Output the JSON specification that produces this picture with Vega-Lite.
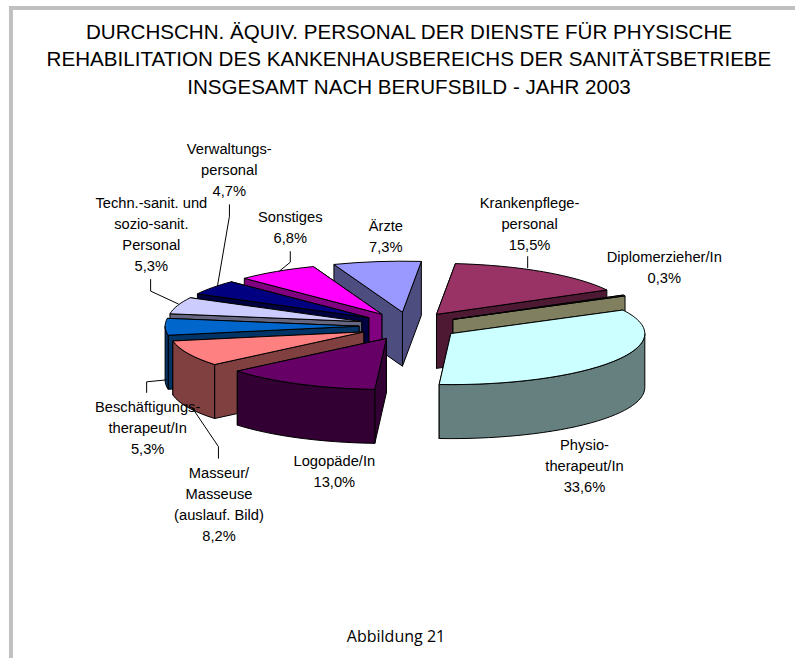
{
"$schema":"https://vega.github.io/schema/vega-lite/v6.json",
"width":797,"height":660,
"autosize":{"type":"fit","contains":"padding"},
"padding":0,
"background":"white",
"view":{"stroke":null},
"datasets":{"slices":[
{"seq":1,"slice":"Krankenpflegepersonal","label":["Krankenpflege-","personal","15,5%"],"share":15.5},
{"seq":2,"slice":"Diplomerzieher/In","label":["Diplomerzieher/In","0,3%"],"share":0.3},
{"seq":3,"slice":"Physiotherapeut/In","label":["Physio-","therapeut/In","33,6%"],"share":33.6},
{"seq":4,"slice":"Logopäde/In","label":["Logopäde/In","13,0%"],"share":13.0},
{"seq":5,"slice":"Masseur/Masseuse","label":["Masseur/","Masseuse","(auslauf. Bild)","8,2%"],"share":8.2},
{"seq":6,"slice":"Beschäftigungstherapeut/In","label":["Beschäftigungs-","therapeut/In","5,3%"],"share":5.3},
{"seq":7,"slice":"Techn.-sanit. Personal","label":["Techn.-sanit. und","sozio-sanit.","Personal","5,3%"],"share":5.3},
{"seq":8,"slice":"Verwaltungspersonal","label":["Verwaltungs-","personal","4,7%"],"share":4.7},
{"seq":9,"slice":"Sonstiges","label":["Sonstiges","6,8%"],"share":6.8},
{"seq":10,"slice":"Ärzte","label":["Ärzte","7,3%"],"share":7.3}
]},
"data":{"name":"slices"},
"transform":[
{"window":[{"op":"sum","field":"share","as":"cum"}],"sort":[{"field":"seq"}],"ignorePeers":true},
{"calculate":"((datum.cum-datum.share)*3.6+5.6)*PI/180","as":"t0"},
{"calculate":"(datum.cum*3.6+5.6)*PI/180","as":"t1"},
{"calculate":"(datum.t0+datum.t1)/2","as":"m"},
{"calculate":"410+50*sin(datum.m)","as":"cx"},
{"calculate":"327-14*cos(datum.m)","as":"cy"}
],
"layer":[
{
"transform":[
{"calculate":"[0,1,2,3]","as":"part"},
{"flatten":["part"]},
{"calculate":"max(datum.t0,PI/2)","as":"w0"},
{"calculate":"min(datum.t1,3*PI/2)","as":"w1"},
{"filter":"datum.part!=2||datum.w0<datum.w1"},
{"calculate":"round(19400*sin(datum.t0))/100","as":"x0"},
{"calculate":"round(-5100*cos(datum.t0))/100","as":"y0"},
{"calculate":"round(19400*sin(datum.t1))/100","as":"x1"},
{"calculate":"round(-5100*cos(datum.t1))/100","as":"y1"},
{"calculate":"round(19400*sin(datum.w0))/100","as":"u0"},
{"calculate":"round(-5100*cos(datum.w0))/100","as":"v0"},
{"calculate":"round(19400*sin(datum.w1))/100","as":"u1"},
{"calculate":"round(-5100*cos(datum.w1))/100","as":"v1"},
{"calculate":"datum.part==3?'M0,0L'+datum.x0+','+datum.y0+'A194,51 0 0 1 '+datum.x1+','+datum.y1+'Z':datum.part==2?'M'+datum.u0+','+datum.v0+'A194,51 0 0 1 '+datum.u1+','+datum.v1+'L'+datum.u1+','+(datum.v1+54)+'A194,51 0 0 0 '+datum.u0+','+(datum.v0+54)+'Z':datum.part==1?'M0,0L'+datum.x1+','+datum.y1+'L'+datum.x1+','+(datum.y1+54)+'L0,54Z':'M0,0L'+datum.x0+','+datum.y0+'L'+datum.x0+','+(datum.y0+54)+'L0,54Z'","as":"path"},
{"calculate":"indexof(['Ärzte','Krankenpflegepersonal','Sonstiges','Verwaltungspersonal','Diplomerzieher/In','Techn.-sanit. Personal','Physiotherapeut/In','Beschäftigungstherapeut/In','Masseur/Masseuse','Logopäde/In'],datum.slice)*10+((datum.part<2&&datum.m>PI)?1-datum.part:datum.part)","as":"paint"},
{"calculate":"datum.slice+(datum.part==3?'|top':'|side')","as":"face"}
],
"mark":{"type":"point","filled":true,"size":4,"opacity":1,"stroke":"#000","strokeWidth":1,"strokeJoin":"round"},
"encoding":{
"x":{"field":"cx","type":"quantitative","scale":{"domain":[0,797],"nice":false,"zero":false},"axis":null},
"y":{"field":"cy","type":"quantitative","scale":{"domain":[660,0],"nice":false,"zero":false},"axis":null},
"shape":{"field":"path","type":"nominal","scale":null,"legend":null},
"order":{"field":"paint","type":"quantitative"},
"fill":{"field":"face","type":"nominal","legend":null,"scale":{
"domain":["Krankenpflegepersonal|top","Krankenpflegepersonal|side","Diplomerzieher/In|top","Diplomerzieher/In|side","Physiotherapeut/In|top","Physiotherapeut/In|side","Logopäde/In|top","Logopäde/In|side","Masseur/Masseuse|top","Masseur/Masseuse|side","Beschäftigungstherapeut/In|top","Beschäftigungstherapeut/In|side","Techn.-sanit. Personal|top","Techn.-sanit. Personal|side","Verwaltungspersonal|top","Verwaltungspersonal|side","Sonstiges|top","Sonstiges|side","Ärzte|top","Ärzte|side"],
"range":["#993366","#4d1933","#404030","#808060","#ccffff","#668080","#660066","#330033","#ff8080","#804040","#0066cc","#003366","#ccccff","#666680","#000080","#000040","#ff00ff","#800080","#9999ff","#4d4d80"]}}
}
},
{
"transform":[
{"calculate":"{'Krankenpflegepersonal':-6,'Diplomerzieher/In':53,'Physiotherapeut/In':-17,'Logopäde/In':29,'Masseur/Masseuse':18,'Beschäftigungstherapeut/In':-32,'Techn.-sanit. Personal':-40,'Verwaltungspersonal':5,'Sonstiges':6,'Ärzte':7}[datum.slice]","as":"nx"},
{"calculate":"{'Krankenpflegepersonal':-73,'Diplomerzieher/In':-49,'Physiotherapeut/In':53,'Logopäde/In':40,'Masseur/Masseuse':91,'Beschäftigungstherapeut/In':60,'Techn.-sanit. Personal':-117,'Verwaltungspersonal':-147,'Sonstiges':-58,'Ärzte':-36}[datum.slice]","as":"ny"},
{"calculate":"410+230*sin(datum.m)+datum.nx","as":"lx"},
{"calculate":"340-85*cos(datum.m)+datum.ny","as":"ly"}
],
"mark":{"type":"text","font":"Liberation Sans","fontSize":14.7,"baseline":"top","align":"center","lineHeight":21,"color":"#000"},
"encoding":{
"x":{"field":"lx","type":"quantitative"},
"y":{"field":"ly","type":"quantitative"},
"text":{"field":"label"}
}
},
{
"data":{"values":[
{"slice":"Krankenpflegepersonal","a":529,"b":257,"c":529,"d":269},
{"slice":"Masseur/Masseuse","a":219,"b":448,"c":192,"d":408},
{"slice":"Masseur/Masseuse","a":219,"b":448,"c":219,"d":460},
{"slice":"Beschäftigungstherapeut/In","a":147,"b":383,"c":167,"d":381},
{"slice":"Beschäftigungstherapeut/In","a":147,"b":383,"c":147,"d":394},
{"slice":"Techn.-sanit. Personal","a":151,"b":280,"c":151,"d":292},
{"slice":"Techn.-sanit. Personal","a":151,"b":292,"c":179,"d":305},
{"slice":"Verwaltungspersonal","a":230,"b":205,"c":230,"d":217},
{"slice":"Verwaltungspersonal","a":230,"b":217,"c":218,"d":287},
{"slice":"Sonstiges","a":291,"b":252,"c":291,"d":263},
{"slice":"Sonstiges","a":291,"b":263,"c":280,"d":272}
]},
"mark":{"type":"rule","color":"#000","strokeWidth":1},
"encoding":{
"x":{"field":"a","type":"quantitative"},
"y":{"field":"b","type":"quantitative"},
"x2":{"field":"c"},
"y2":{"field":"d"}
}
},
{
"data":{"values":[{"t":["DURCHSCHN. ÄQUIV. PERSONAL DER DIENSTE FÜR PHYSISCHE","REHABILITATION DES KANKENHAUSBEREICHS DER SANITÄTSBETRIEBE","INSGESAMT NACH BERUFSBILD - JAHR 2003"]}]},
"mark":{"type":"text","font":"Liberation Sans","fontSize":20.6,"baseline":"top","align":"center","lineHeight":27.5,"color":"#000"},
"encoding":{"x":{"datum":410},"y":{"datum":23},"text":{"field":"t"}}
},
{
"data":{"values":[{"t":"Abbildung 21"}]},
"mark":{"type":"text","font":"Open Sans","fontSize":16,"baseline":"middle","align":"center","color":"#000"},
"encoding":{"x":{"datum":397},"y":{"datum":639},"text":{"field":"t"}}
},
{
"data":{"values":[{"edge":"left","a":11,"b":6,"c":11,"d":660},{"edge":"top","a":9,"b":8,"c":797,"d":8}]},
"mark":{"type":"rule","color":"#c0c0c0","strokeWidth":4},
"encoding":{
"x":{"field":"a","type":"quantitative"},
"y":{"field":"b","type":"quantitative"},
"x2":{"field":"c"},
"y2":{"field":"d"}
}
}
]
}
